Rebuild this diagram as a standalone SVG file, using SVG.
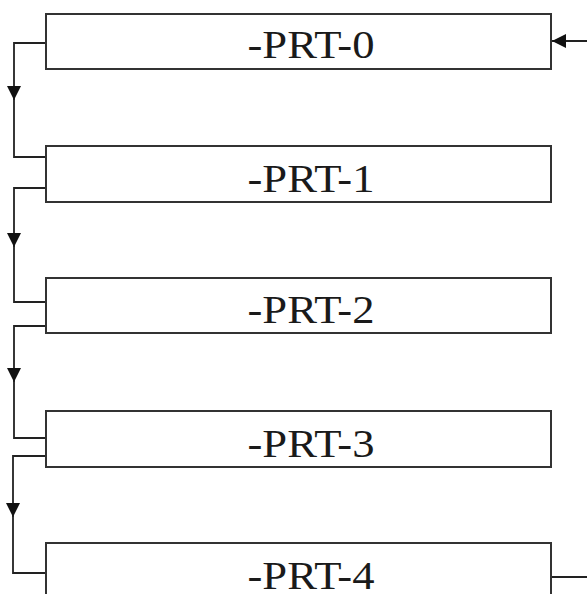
<svg xmlns="http://www.w3.org/2000/svg" width="587" height="594" viewBox="0 0 587 594">
<style>
.box{fill:#fff;stroke:#333;stroke-width:2}
.lbl{font-family:"Liberation Serif","Noto Sans CJK SC",serif;font-size:39px;fill:#1a1a1a;text-anchor:middle}
.ln{fill:none;stroke:#222;stroke-width:1.8}
</style>
<defs>
<marker id="ah" markerUnits="userSpaceOnUse" markerWidth="16" markerHeight="15" refX="14" refY="7" orient="auto">
<path d="M0,0 L14,7 L0,14 z" fill="#111"/>
</marker>
</defs>
<rect width="587" height="594" fill="#fff"/>
<g id="connectors">
<path class="ln" d="M46 43H14V100" marker-end="url(#ah)"/>
<path class="ln" d="M14 99V157H46"/>
<path class="ln" d="M46 188H14V247" marker-end="url(#ah)"/>
<path class="ln" d="M14 246V302H46"/>
<path class="ln" d="M46 326H14V382" marker-end="url(#ah)"/>
<path class="ln" d="M14 381V438H46"/>
<path class="ln" d="M46 456H13V517" marker-end="url(#ah)"/>
<path class="ln" d="M13 516V573H46"/>
<path class="ln" d="M551 577H595V41H552" marker-end="url(#ah)"/>
</g>
<g id="prt0"><rect class="box" x="46" y="14" width="505" height="55"/><text class="lbl" x="311" y="58" textLength="127" lengthAdjust="spacingAndGlyphs">-PRT-0</text></g>
<g id="prt1"><rect class="box" x="46" y="146" width="505" height="56"/><text class="lbl" x="311" y="192" textLength="127" lengthAdjust="spacingAndGlyphs">-PRT-1</text></g>
<g id="prt2"><rect class="box" x="46" y="278" width="505" height="55"/><text class="lbl" x="311" y="323" textLength="127" lengthAdjust="spacingAndGlyphs">-PRT-2</text></g>
<g id="prt3"><rect class="box" x="46" y="411" width="505" height="56"/><text class="lbl" x="311" y="457" textLength="127" lengthAdjust="spacingAndGlyphs">-PRT-3</text></g>
<g id="prt4"><rect class="box" x="46" y="543" width="505" height="56"/><text class="lbl" x="311" y="589" textLength="127" lengthAdjust="spacingAndGlyphs">-PRT-4</text></g>
</svg>
